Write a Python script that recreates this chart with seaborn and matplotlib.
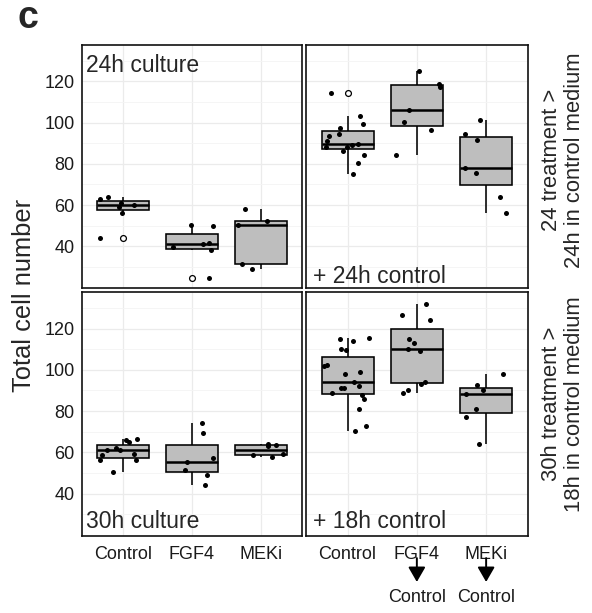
import numpy as np
import pandas as pd
import matplotlib
matplotlib.use("Agg")
import matplotlib.pyplot as plt
from matplotlib.ticker import FixedLocator
import seaborn as sns

sns.set_style("white")
plt.rcParams['font.family'] = ['Liberation Sans', 'DejaVu Sans']

# ---------------- data ----------------
categories = ["Control", "FGF4", "MEKi"]
y_ticks = [40, 60, 80, 100, 120]
y_minor = [30, 50, 70, 90, 110, 130]

# 24h culture
c24_control = [64.1, 63.0, 60.9, 60.0, 58.8, 56.3, 43.8]
c24_fgf4 = [50.2, 50.0, 41.6, 41.2, 39.5, 38.3, 24.8]
c24_meki = [58.3, 52.0, 50.2, 31.6, 29.0]
# 24h treatment + 24h control
r24_control = [114.2, 103.0, 99.2, 97.4, 94.5, 93.7, 90.9, 89.5, 89.0, 88.2,
               88.2, 86.2, 84.3, 80.4, 75.1]
r24_fgf4 = [124.8, 118.9, 117.1, 105.9, 100.1, 96.3, 84.3]
r24_meki = [101.0, 94.3, 91.7, 78.0, 75.7, 64.1, 55.9]
# 30h culture
c30_control = [66.5, 65.8, 65.2, 62.3, 61.0, 61.0, 59.2, 58.5, 56.3, 56.1, 50.5]
c30_fgf4 = [74.0, 69.4, 57.3, 55.5, 51.3, 49.2, 44.0]
c30_meki = [64.0, 63.7, 62.9, 59.0, 58.5, 57.7]
# 30h treatment + 18h control
r30_control = [115.3, 114.8, 114.0, 110.0, 109.7, 102.3, 101.8, 98.9, 97.9, 94.0,
               92.1, 91.3, 91.1, 88.7, 87.9, 85.8, 80.8, 72.7, 70.6]
r30_fgf4 = [131.8, 126.5, 124.0, 115.2, 113.2, 110.2, 109.0, 94.2, 93.1, 90.2, 88.7]
r30_meki = [98.2, 92.7, 90.0, 88.1, 81.0, 77.3, 63.9]

panel_labels = ["24h culture", "+ 24h control", "30h culture", "+ 18h control"]
row_labels = [("24 treatment >", "24h in control medium"),
              ("30h treatment >", "18h in control medium")]

panels = [
    [c24_control, c24_fgf4, c24_meki],
    [r24_control, r24_fgf4, r24_meki],
    [c30_control, c30_fgf4, c30_meki],
    [r30_control, r30_fgf4, r30_meki],
]

rows = []
for pi, series in enumerate(panels):
    for cat, vals in zip(categories, series):
        for v in vals:
            rows.append({"panel": pi, "treatment": cat, "count": v})
df = pd.DataFrame(rows)

# ---------------- figure ----------------
W, H = 592, 613
fig = plt.figure(figsize=(W / 100, H / 100), dpi=100)


def rect(x0, y0, x1, y1):
    return [x0 / W, 1 - y1 / H, (x1 - x0) / W, (y1 - y0) / H]


xl = (81.7, 302.3)
xr = (306.0, 527.7)
yt = (45.0, 288.3)
yb = (292.3, 535.7)
axes = [
    fig.add_axes(rect(xl[0], yt[0], xl[1], yt[1])),
    fig.add_axes(rect(xr[0], yt[0], xr[1], yt[1])),
    fig.add_axes(rect(xl[0], yb[0], xl[1], yb[1])),
    fig.add_axes(rect(xr[0], yb[0], xr[1], yb[1])),
]

np.random.seed(11)
for pi, ax in enumerate(axes):
    sub = df[df["panel"] == pi]
    sns.boxplot(data=sub, x="treatment", y="count", order=categories, ax=ax,
                color="#BEBEBE", saturation=1, width=0.75, linecolor="black",
                linewidth=1.15, showcaps=False,
                medianprops=dict(linewidth=1.8, color="black"),
                flierprops=dict(marker="o", markerfacecolor="white",
                                markeredgecolor="black", markersize=4.2,
                                markeredgewidth=0.9))
    sns.stripplot(data=sub, x="treatment", y="count", order=categories, ax=ax,
                  jitter=0.35, color="black", size=3.6, linewidth=0)
    ax.set_xlim(-0.6, 2.6)
    ax.set_ylim(19.6, 137.6)
    ax.set_xlabel("")
    ax.set_ylabel("")
    ax.set_yticks(y_ticks)
    ax.yaxis.set_minor_locator(FixedLocator(y_minor))
    ax.set_axisbelow(True)
    ax.grid(True, which="major", axis="both", color="#EBEBEB", linewidth=0.9)
    ax.grid(True, which="minor", axis="y", color="#F4F4F4", linewidth=0.6)
    ax.tick_params(which="minor", length=0)
    for s in ax.spines.values():
        s.set_linewidth(1.2)
        s.set_color("#111111")
    ax.tick_params(axis="both", which="major", length=3.2, width=0.8,
                   color="#333333", labelsize=13, labelcolor="#1a1a1a")
    ax.tick_params(axis="y", pad=2)
    ax.tick_params(axis="x", pad=4)
    if pi in (1, 3):
        ax.tick_params(axis="y", left=False, labelleft=False)
    if pi in (0, 1):
        ax.tick_params(axis="x", bottom=False, labelbottom=False)
    # panel label
    if pi == 0:
        ax.text(0.02, 0.965, panel_labels[pi], transform=ax.transAxes,
                ha="left", va="top", fontsize=16.5)
    elif pi == 2:
        ax.text(0.02, 0.03, panel_labels[pi], transform=ax.transAxes,
                ha="left", va="baseline", fontsize=16.5)
    else:
        ax.text(0.03, 0.02 if pi == 1 else 0.03, panel_labels[pi],
                transform=ax.transAxes, ha="left", va="baseline", fontsize=16.5)

# arrows + second-line labels under FGF4 / MEKi in the bottom-right panel
ax = axes[3]
tr = ax.get_xaxis_transform()
for cat in ["FGF4", "MEKi"]:
    xi = categories.index(cat)
    ax.annotate("", xy=(xi, -0.190), xytext=(xi, -0.092), xycoords=tr,
                textcoords=tr, annotation_clip=False,
                arrowprops=dict(arrowstyle="-|>,head_length=0.9,head_width=0.52",
                                mutation_scale=10, color="black", lw=1.4,
                                shrinkA=0, shrinkB=0))
    ax.text(xi, -0.252, "Control", transform=tr, ha="center", va="center",
            fontsize=13, color="#1a1a1a")

# y label
fig.text(24 / W, 1 - 295 / H, "Total cell number", rotation=90,
         ha="center", va="center", fontsize=18.4)

# row strip labels (right side)
for (l1, l2), yc in zip(row_labels, [160, 404]):
    fig.text(551.7 / W, 1 - yc / H, l1, rotation=90, ha="center", va="center",
             fontsize=15.8)
    fig.text(575.0 / W, 1 - yc / H, l2, rotation=90, ha="center", va="center",
             fontsize=15.8)

# panel letter
fig.text(28 / W, 1 - 18.5 / H, "c", ha="center", va="center", fontsize=27,
         fontweight="bold")

fig.savefig("out.png", dpi=100)
